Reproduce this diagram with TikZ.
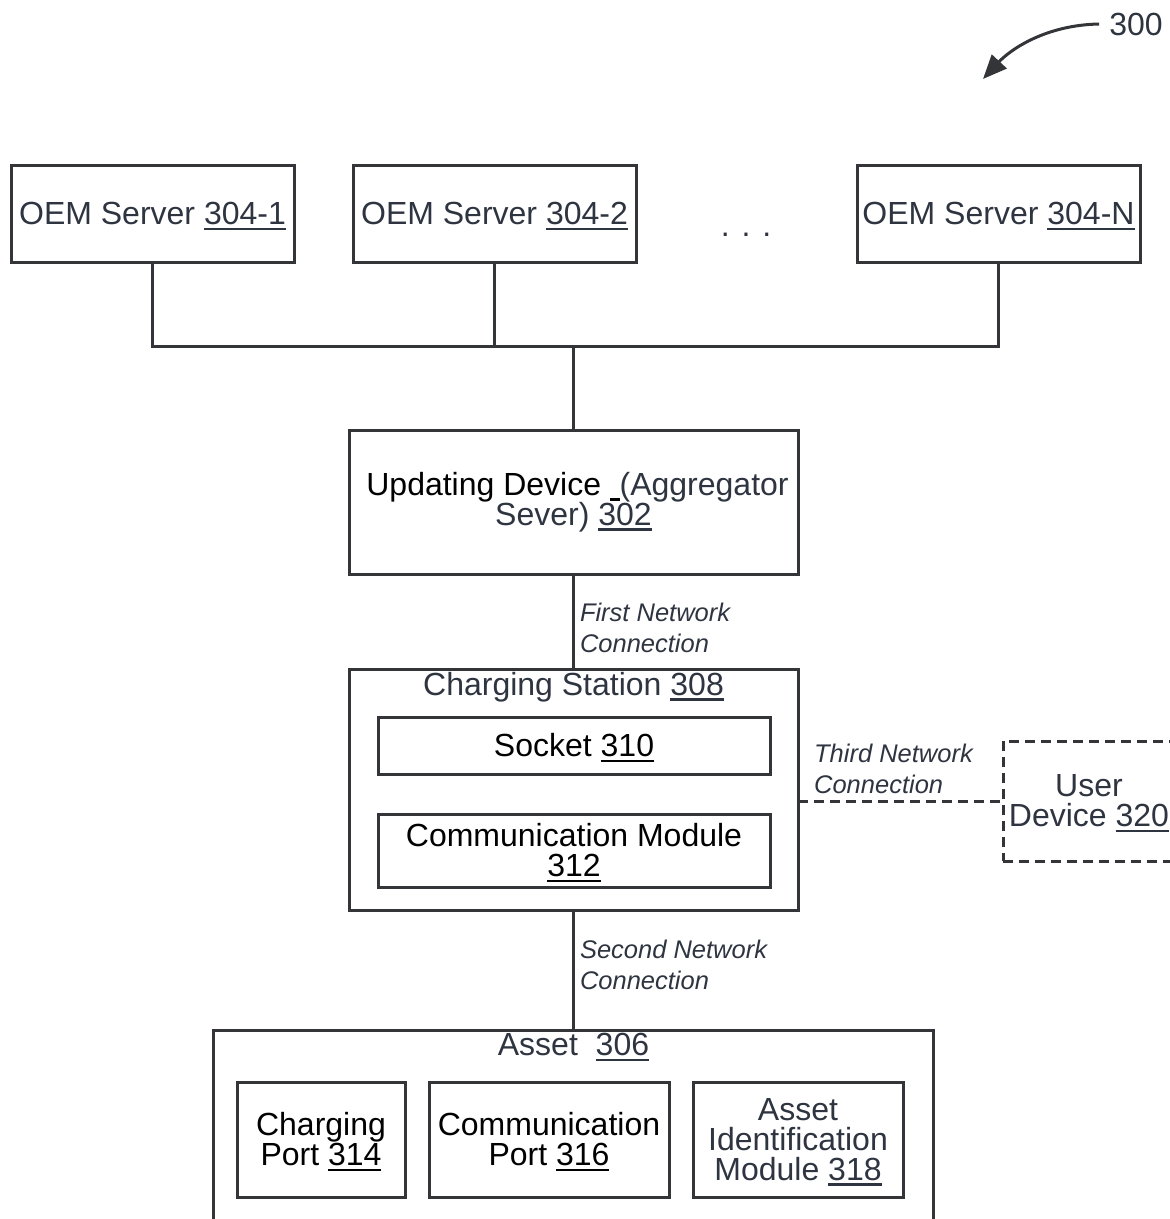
\documentclass[tikz,border=0pt]{standalone}
\usepackage{fontspec}
\setmainfont{Liberation Sans}
\usetikzlibrary{arrows.meta,positioning,calc}

\definecolor{linegray}{HTML}{333539}
\definecolor{slate}{HTML}{2E3440}

% underlined reference numbers
\newlength{\refnowd}
\newcommand{\refno}[1]{\settowidth{\refnowd}{#1}\rlap{\smash{\rule[-0.17em]{\refnowd}{0.075em}}}#1}

\begin{document}
\begin{tikzpicture}[
        x=1pt, y=-1pt,
        every node/.style={font=\fontsize{32}{30}\selectfont, inner sep=0pt},
        box/.style={draw=linegray, line width=3pt, outer sep=0pt, rectangle, align=center},
        oem/.style={box, text=slate, minimum width=283pt, minimum height=97pt},
        part/.style={box, minimum height=115pt},
        wire/.style={draw=linegray, line width=3pt},
        netlabel/.style={font=\fontsize{25.5}{31}\selectfont\itshape, align=left, text=slate}
    ]
        \useasboundingbox (0,0) rectangle (1170,1219);
        \clip (0,0) rectangle (1170,1219);

        % servers
        \node[oem] (oem1) at (152.5,213.5) {OEM Server \refno{304-1}};
        \node[oem, right=59pt of oem1] (oem2) {OEM Server \refno{304-2}};
        \node[oem] (oemN) at (998.5,213.5) {OEM Server \refno{304-N}};
        \node[text=slate] (dots) at (746,235) {. . .};

        \node[box, minimum width=449pt, minimum height=144pt] (upd) at (573.5,502)
            {\hspace{8pt}Updating Device \refno{\hspace{0.3em}}\textcolor{slate}{(Aggregator}\\\textcolor{slate}{Sever) \refno{302}}};

        % charging station
        \node[box, minimum width=449pt, minimum height=241pt, below=95pt of upd] (cs) {};
        \node[anchor=north, text=slate] (cstitle) at ([yshift=-3pt]cs.north) {Charging Station \refno{308}};
        \node[box, minimum width=392pt, minimum height=57pt] (socket) at (574,745.5) {Socket \refno{310}};
        \node[box, minimum width=392pt, minimum height=73pt] (comm) at (574,850.5) {Communication Module\\\refno{312}};

        \node[box, text=slate, dashed, dash pattern=on 10pt off 6pt, minimum width=172pt, minimum height=120pt, anchor=west] (user) at (1003,801) {User\\Device \refno{320}};

        % asset
        \node[box, minimum width=720pt, minimum height=260pt, below=120pt of cs] (asset) {};
        \node[anchor=north, text=slate] (assettitle) at ([yshift=-3pt]asset.north) {Asset\ \ \refno{306}};
        \node[part, minimum width=168pt] (cport) at (321,1139.5) {Charging\\Port \refno{314}};
        \node[part, minimum width=240pt] (commport) at (549,1139.5) {Communication\\Port \refno{316}};
        \node[part, text=slate, minimum width=210pt] (aim) at (798,1139.5) {Asset\\Identification\\Module \refno{318}};

        % bus to the servers
        \coordinate (busy) at (0,346);
        \coordinate (bus) at (upd.north |- busy);
        \draw[wire] (oem1.south) |- (bus) -| (oemN.south);
        \draw[wire] (oem2.south) -- (oem2.south |- bus);
        \draw[wire] (bus) -- (upd.north);

        % network connections
        \draw[wire] (upd.south) -- node[netlabel, right=5pt, yshift=-6pt] {First Network\\Connection} (cs.north);
        \draw[wire] (cs.south) -- node[netlabel, right=5pt, yshift=5pt] {Second Network\\Connection} (asset.north);
        \draw[wire, dashed, dash pattern=on 10pt off 6pt] (cs.east |- user.west) -- node[netlabel, above=6pt, xshift=-7pt] {Third Network\\Connection} (user.west);

        % figure number
        \node[text=slate] (refnum) at (1136,24) {300};
        \coordinate (reftip) at (983,79);
        \draw[wire, -{Triangle[length=24pt,width=20pt]}] ([xshift=-10pt]refnum.west) .. controls (1045,25) and (1010,50) .. (reftip);
    \end{tikzpicture}
\end{document}
